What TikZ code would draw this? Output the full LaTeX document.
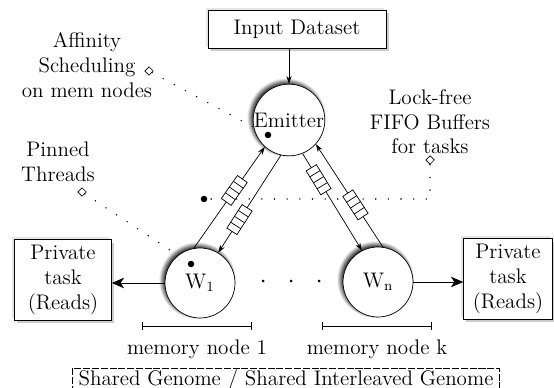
\documentclass[tikz,border=0pt]{standalone}
\usepackage{tikz}
\usetikzlibrary{shapes.geometric, arrows.meta, shadows}

\tikzset{
  worker/.style={circle, draw, fill=white, minimum size=1.4cm, inner sep=0pt,
    circular drop shadow={shadow xshift=-1.4pt, shadow yshift=1.4pt, shadow scale=1.1, fill=black!75}},
  boxshadow/.style={drop shadow={shadow xshift=-1.4pt, shadow yshift=1.4pt, fill=black!20},
    drop shadow={shadow xshift=1.6pt, shadow yshift=-1.6pt, fill=black!40}},
  taskbox/.style={draw, fill=white, align=center, minimum width=1.94cm, minimum height=1.42cm, boxshadow},
  fifo/.pic={
    \draw[fill=white] (-0.28cm,-0.12cm) rectangle (0.28cm,0.12cm);
    \foreach \f in {-0.14,0,0.14}
      \draw (\f cm,-0.12cm) -- (\f cm,0.12cm);
  },
  link/.style={-{Stealth[length=4.5pt, width=3pt]}},
  bigarrow/.style={-{Stealth[length=7pt, width=6pt, inset=2pt]}},
  note/.style={align=center},
  pin/.style={diamond, draw, fill=white, inner sep=0pt, minimum size=5pt},
  dotline/.style={line width=0.9pt, line cap=round, dash pattern=on 0pt off 7.2pt},
  bigdot/.style={circle, fill=black, inner sep=0pt, minimum size=0.13cm},
}

\begin{document}
\begin{tikzpicture}[x=0.02cm, y=-0.02cm, font=\large]
\useasboundingbox (0,0) rectangle (554,388);

\coordinate (edot) at (268,135);
\coordinate (wdot) at (191,264);
\coordinate (bdot) at (204,199);
\coordinate (bturn) at (430,199);

% labels with their pins
\node[note] (afftxt) at (87,65) {Affinity\\Scheduling\\on mem nodes};
\node[note] (pintxt) at (58,162) {Pinned\\Threads};
\node[note] (buftxt) at (430,122) {Lock-free\\FIFO Buffers\\for tasks};
\node[pin] (affpin) at (149,71) {};
\node[pin] (pinpin) at (82,192) {};
\node[pin] (bufpin) at (430,160) {};

\draw[dotline] (affpin) -- (edot);
\draw[dotline] (pinpin) -- (wdot);
\draw[dotline] (bufpin) -- (bturn) -- (bdot);

% farm
\node[draw, fill=white, minimum width=3.56cm, minimum height=0.76cm, boxshadow] (input) at (297,29) {Input Dataset};
\node[worker] (emitter) at (289,120) {Emitter};
\node[worker] (w1) at (200,283) {$\mathrm{W}_{1}$};
\node[worker] (wn) at (378,282) {$\mathrm{W}_{\mathrm{n}}$};
\node[taskbox] (ptl) at (63,280) {Private\\task\\(Reads)};
\node[taskbox, minimum width=1.78cm] (ptr) at (508,279) {Private\\task\\(Reads)};

\node[bigdot] (edotn) at (edot) {};
\node[bigdot] (wdotn) at (wdot) {};
\node[bigdot] (bdotn) at (bdot) {};

\draw[link] (emitter.north |- input.south) -- (emitter.north);

\draw[link] (w1.100) -- (emitter.228);
\draw[link] (emitter.257) -- (w1.59);
\draw[link] (emitter.292) -- (wn.117);
\draw[link] (wn.82) -- (emitter.318);
\path (w1.100) -- pic[pos=0.57, sloped] {fifo} (emitter.228);
\path (emitter.257) -- pic[pos=0.66, sloped] {fifo} (w1.59);
\path (emitter.292) -- pic[pos=0.27, sloped] {fifo} (wn.117);
\path (wn.82) -- pic[pos=0.41, sloped] {fifo} (emitter.318);

\draw[bigarrow] (w1.west) -- (ptl.east |- w1.west);
\draw[bigarrow] (wn.east) -- (ptr.west |- wn.east);

\foreach \x in {263,291,319}
  \fill (\x,281) circle (1.5);

% memory nodes
\coordinate (m1a) at (142,326);
\coordinate (m1b) at (252,326);
\coordinate (mka) at (322,326);
\coordinate (mkb) at (432,326);
\draw[{Bar[width=4.5pt]}-{Bar[width=4.5pt]}] (m1a) -- node[below=0.15cm] (m1lbl) {memory node 1} (m1b);
\draw[{Bar[width=4.5pt]}-{Bar[width=4.5pt]}] (mka) -- node[below=0.15cm] (mklbl) {memory node k} (mkb);

\node[draw, dash pattern=on 4pt off 1pt, anchor=base, minimum width=8.16cm,
  text height=0.3cm, text depth=0.3cm, inner ysep=0.04cm] (genome) at (286,385)
  {Shared Genome / Shared Interleaved Genome};
\end{tikzpicture}
\end{document}
